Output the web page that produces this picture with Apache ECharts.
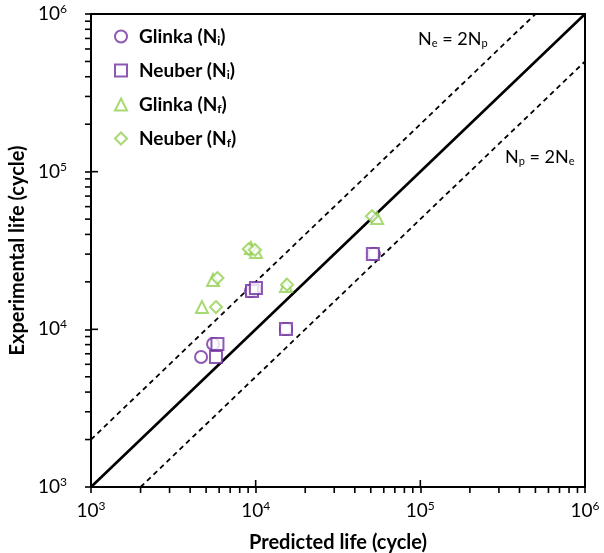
<!DOCTYPE html>
<html><head><meta charset="utf-8">
<script src="https://cdn.jsdelivr.net/npm/echarts@6/dist/echarts.min.js"></script>
<style>html,body{margin:0;padding:0;background:#fff}#c{width:604px;height:553px}</style>
</head><body><div id="c"></div>
<script>
// Data: [predicted, experimental]
const glinkaNi = [[4660, 6670], [5510, 8070], [9360, 17500], [9900, 18000], [15280, 10040], [52200, 30000]];
const neuberNi = [[5740, 6670], [5860, 8070], [9500, 17500], [10040, 18280], [15280, 10040], [51500, 30000]];
const glinkaNf = [[4720, 13840], [5510, 20560], [9360, 32800], [10040, 30900], [15280, 18840], [54600, 50800]];
const neuberNf = [[5740, 13840], [5860, 21140], [9080, 32300], [9900, 31900], [15500, 19200], [50800, 52200]];
const lineEqual = [[1e3, 1e3], [1e6, 1e6]];
const lineUpper = [[1e3, 2e3], [5e5, 1e6]];
const lineLower = [[2e3, 1e3], [1e6, 5e5]];
const majorTicks = [1e3, 1e4, 1e5, 1e6];
const minorTicks = [];
[1e3, 1e4, 1e5].forEach(b => { for (let k = 2; k < 10; k++) minorTicks.push(k * b); });

const FONT = 'Lato';
const PURPLE = '#7030A0', GREEN = '#92D050';
const supRich = {
  n: { fontSize: 19, fontFamily: FONT, color: '#000' },
  s: { fontSize: 12, fontFamily: FONT, color: '#000', padding: [0, 0, 10, 0] }
};
const labelFmt = v => '{n|10}{s|' + Math.round(Math.log10(v)) + '}';

const chart = echarts.init(document.getElementById('c'));
const gridCfg = { left: 91, right: 19, top: 14, bottom: 66, show: true, borderColor: '#000', borderWidth: 2,
  backgroundColor: 'transparent', outerBoundsMode: 'none', containLabel: false };
function axis(isX) {
  return {
    type: 'log', logBase: 10, min: 1e3, max: 1e6, position: isX ? 'bottom' : 'left',
    name: isX ? 'Predicted life (cycle)' : 'Experimental life (cycle)',
    nameLocation: 'middle', nameGap: isX ? 46 : 62,
    nameTextStyle: { fontFamily: FONT, fontWeight: 'bold', fontSize: 20, color: '#000' },
    axisLine: { show: true, onZero: false, lineStyle: { color: '#000', width: 2 } },
    axisTick: { show: true, inside: false, length: 6, lineStyle: { color: '#000', width: 1.6 } },
    axisLabel: { show: true, formatter: labelFmt, rich: supRich, margin: isX ? 13 : 24 },
    splitLine: { show: false }, minorTick: { show: false }
  };
}
// minor ticks (outside) and inner half of decade ticks, as thin rect symbols placed through the log axes' scale
function tickSeries(isX, values, inside) {
  const len = inside ? 7 : 6;
  const off = inside ? -len / 2 : len / 2;
  return {
    type: 'scatter', silent: true, clip: false, z: 10, symbol: 'rect',
    symbolSize: isX ? [1.6, len] : [len, 1.6],
    symbolOffset: isX ? [0, off] : [-off, 0],
    itemStyle: { color: '#000', opacity: 1 },
    data: values.map(v => isX ? [v, 1e3] : [1e3, v])
  };
}
const legendRich = {
  f: { fontFamily: FONT, fontWeight: 'bold', fontSize: 19, color: '#000', padding: [0, 0, 0, 7] },
  b: { fontFamily: FONT, fontWeight: 'bold', fontSize: 19, color: '#000' },
  s: { fontFamily: FONT, fontWeight: 'bold', fontSize: 12, color: '#000', padding: [9, 0, 0, 0] }
};
const legendFmt = {
  'Glinka (Ni)': '{f|Glinka (N}{s|i}{b|)}',
  'Neuber (Ni)': '{f|Neuber (N}{s|i}{b|)}',
  'Glinka (Nf)': '{f|Glinka (N}{s|f}{b|)}',
  'Neuber (Nf)': '{f|Neuber (N}{s|f}{b|)}'
};
function scatter(name, data, symbol, color) {
  return { name, type: 'scatter', data, symbol, symbolSize: 12,
    itemStyle: { color: color, borderColor: color, borderWidth: 1.5 }, z: 5 };
}
function line(data, dashed, width) {
  return { type: 'line', data, showSymbol: false, symbol: 'none', silent: true,
    lineStyle: { color: '#000', width, type: dashed ? [5, 4] : 'solid' }, z: 3 };
}
chart.setOption({
  animation: false,
  grid: gridCfg,
  xAxis: axis(true),
  yAxis: axis(false),
  legend: {
    data: ['Glinka (Ni)', 'Neuber (Ni)', 'Glinka (Nf)', 'Neuber (Nf)'],
    orient: 'vertical', left: 109, top: 22, itemGap: 14, itemWidth: 12, itemHeight: 12,
    formatter: n => legendFmt[n], textStyle: { rich: legendRich }
  },
  graphic: [
    { type: 'text', left: 418, top: 30, style: { rich: {
        a: { fontFamily: FONT, fontSize: 18, fill: '#000' },
        s: { fontFamily: FONT, fontSize: 11, fill: '#000', padding: [9, 0, 0, 0] } },
      text: '{a|N}{s|e}{a| = 2N}{s|p}' } },
    { type: 'text', left: 505, top: 148, style: { rich: {
        a: { fontFamily: FONT, fontSize: 18, fill: '#000' },
        s: { fontFamily: FONT, fontSize: 11, fill: '#000', padding: [9, 0, 0, 0] } },
      text: '{a|N}{s|p}{a| = 2N}{s|e}' } }
  ],
  series: [
    line(lineEqual, false, 2.6),
    line(lineUpper, true, 1.8),
    line(lineLower, true, 1.8),
    tickSeries(true, minorTicks, false),
    tickSeries(true, majorTicks, true),
    tickSeries(false, minorTicks, false),
    tickSeries(false, majorTicks, true),
    scatter('Glinka (Ni)', glinkaNi, 'emptyCircle', PURPLE),
    scatter('Neuber (Ni)', neuberNi, 'emptyRect', PURPLE),
    scatter('Glinka (Nf)', glinkaNf, 'emptyTriangle', GREEN),
    scatter('Neuber (Nf)', neuberNf, 'emptyDiamond', GREEN)
  ]
});
</script></body></html>
